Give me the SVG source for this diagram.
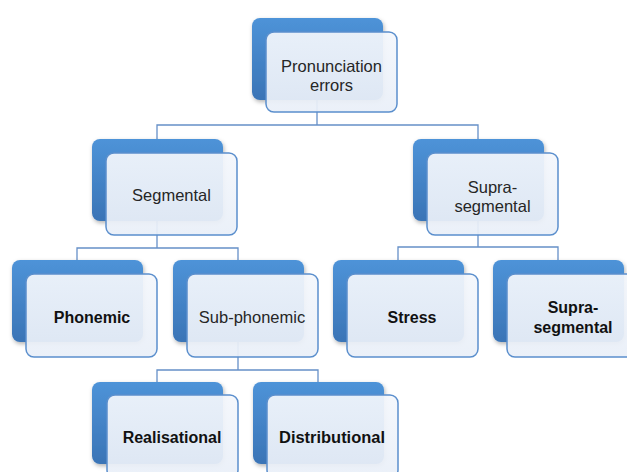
<svg xmlns="http://www.w3.org/2000/svg" width="627" height="472" viewBox="0 0 627 472">
<defs>
<linearGradient id="blueGrad" x1="0" y1="0" x2="0" y2="1">
<stop offset="0" stop-color="#4E93D8"/>
<stop offset="1" stop-color="#3A74B6"/>
</linearGradient>
<linearGradient id="whiteGrad" x1="0" y1="0" x2="0" y2="1">
<stop offset="0" stop-color="#F4F7FC"/>
<stop offset="1" stop-color="#E9EFF8"/>
</linearGradient>
<filter id="shadow" x="-10%" y="-10%" width="125%" height="130%">
<feDropShadow dx="1" dy="2" stdDeviation="2" flood-color="#000" flood-opacity="0.3"/>
</filter>
</defs>
<style>
.back{fill:url(#blueGrad);filter:url(#shadow);}
.front{fill:url(#whiteGrad);fill-opacity:0.93;stroke:#5B8FCD;stroke-width:1.5;}
.conn{fill:none;stroke:#6690C8;stroke-width:1.3;}
.t{font-family:"Liberation Sans",Arial,sans-serif;font-size:16.5px;fill:#262626;text-anchor:middle;}
.b{font-family:"Liberation Sans",Arial,sans-serif;font-size:16px;font-weight:bold;fill:#111;text-anchor:middle;}
</style>
<rect width="627" height="472" fill="#fff"/>
<g id="connectors">
<path class="conn" d="M317,100 V125 M157,139 V125 H478 V139"/>
<path class="conn" d="M157,221 V248 M77,260 V248 H238 V260"/>
<path class="conn" d="M478,221 V247 M398,260 V247 H558 V260"/>
<path class="conn" d="M238,342 V370 M157,382 V370 H318 V382"/>
</g>
<g id="n-pronunciation">
<rect class="back" x="252" y="18" width="131" height="82" rx="8"/>
<rect class="front" x="266" y="32" width="131" height="80" rx="8"/>
<text class="t" x="331.5" y="72">Pronunciation</text>
<text class="t" x="331.5" y="91">errors</text>
</g>
<g id="n-segmental">
<rect class="back" x="92" y="139" width="131" height="82" rx="8"/>
<rect class="front" x="106" y="153" width="131" height="82" rx="8"/>
<text class="t" x="171.5" y="201">Segmental</text>
</g>
<g id="n-suprasegmental">
<rect class="back" x="413" y="139" width="131" height="82" rx="8"/>
<rect class="front" x="427" y="153" width="131" height="82" rx="8"/>
<text class="t" x="492.5" y="193">Supra-</text>
<text class="t" x="492.5" y="212">segmental</text>
</g>
<g id="n-phonemic">
<rect class="back" x="12" y="260" width="131" height="82" rx="8"/>
<rect class="front" x="26" y="274" width="131" height="83" rx="8"/>
<text class="b" x="92" y="323">Phonemic</text>
</g>
<g id="n-subphonemic">
<rect class="back" x="173" y="260" width="131" height="82" rx="8"/>
<rect class="front" x="187" y="274" width="131" height="83" rx="8"/>
<text class="t" x="252" y="323">Sub-phonemic</text>
</g>
<g id="n-stress">
<rect class="back" x="333" y="260" width="131" height="82" rx="8"/>
<rect class="front" x="347" y="274" width="131" height="83" rx="8"/>
<text class="b" x="412" y="323">Stress</text>
</g>
<g id="n-suprasegmental2">
<rect class="back" x="493" y="260" width="131" height="82" rx="8"/>
<rect class="front" x="507" y="274" width="131" height="83" rx="8"/>
<text class="b" x="573" y="313">Supra-</text>
<text class="b" x="573" y="333">segmental</text>
</g>
<g id="n-realisational">
<rect class="back" x="92" y="382" width="131" height="82" rx="8"/>
<rect class="front" x="107" y="395" width="131" height="83" rx="8"/>
<text class="b" x="172" y="443">Realisational</text>
</g>
<g id="n-distributional">
<rect class="back" x="253" y="382" width="131" height="82" rx="8"/>
<rect class="front" x="267" y="395" width="131" height="83" rx="8"/>
<text class="b" x="332" y="443" textLength="106" lengthAdjust="spacingAndGlyphs">Distributional</text>
</g>
</svg>
